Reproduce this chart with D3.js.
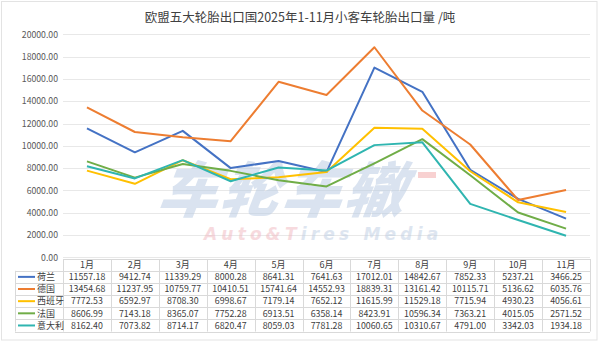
<!DOCTYPE html>
<html>
<head>
<meta charset="utf-8">
<script src="https://cdn.jsdelivr.net/npm/d3@7/dist/d3.min.js"></script>
<style>
  html, body { margin: 0; padding: 0; background: #fff; }
  svg { display: block; font-family: "Noto Sans CJK SC", "Noto Sans", sans-serif; }
</style>
</head>
<body>
<svg id="chart" width="600" height="343"></svg>
<script>
// 2025年1-11月 欧盟五大轮胎出口国小客车轮胎出口量（吨）
const months = ["1月","2月","3月","4月","5月","6月","7月","8月","9月","10月","11月"];
const countries = ["荷兰","德国","西班牙","法国","意大利"];
const colors = ["#4472C4","#ED7D31","#FFC000","#70AD47","#2FB5B0"];

const netherlands = [11557.18, 9412.74, 11339.29, 8000.28, 8641.31, 7641.63, 17012.01, 14842.67, 7852.33, 5237.21, 3466.25];
const germany     = [13454.68, 11237.95, 10759.77, 10410.51, 15741.64, 14552.93, 18839.31, 13161.42, 10115.71, 5136.62, 6035.76];
const spain       = [7772.53, 6592.97, 8708.30, 6998.67, 7179.14, 7652.12, 11615.99, 11529.18, 7715.94, 4930.23, 4056.61];
const france      = [8606.99, 7143.18, 8365.07, 7752.28, 6913.51, 6358.14, 8423.91, 10596.34, 7363.21, 4015.05, 2571.52];
const italy       = [8162.40, 7073.82, 8714.17, 6820.47, 8059.03, 7781.28, 10060.65, 10310.67, 4791.00, 3342.03, 1934.18];

const yTicks = [0, 2000, 4000, 6000, 8000, 10000, 12000, 14000, 16000, 18000, 20000];
const title = "欧盟五大轮胎出口国2025年1-11月小客车轮胎出口量 /吨";

const series = countries.map((name, i) => ({
  name,
  color: colors[i],
  values: [netherlands, germany, spain, france, italy][i]
}));

const svg = d3.select("#chart");

// outer frame
svg.append("rect")
  .attr("x", 1.5).attr("y", 1.5).attr("width", 595.5).attr("height", 338.5)
  .attr("fill", "#fff").attr("stroke", "#e3e3e3").attr("stroke-width", 1);

// title
svg.append("text")
  .attr("x", 300).attr("y", 22)
  .attr("text-anchor", "middle")
  .attr("font-size", 12.5)
  .attr("fill", "#404040")
  .text(title);

const left = 63, right = 590;
const x = d3.scaleBand().domain(months).range([left, right]);
const y = d3.scaleLinear().domain([0, 20000]).range([257.3, 34.3]);

// horizontal grid lines
svg.append("g")
  .selectAll("line")
  .data(yTicks)
  .join("line")
  .attr("x1", left).attr("x2", right)
  .attr("y1", d => Math.round(y(d)) + 0.5)
  .attr("y2", d => Math.round(y(d)) + 0.5)
  .attr("stroke", "#e8e8e8").attr("stroke-width", 1);

// y axis labels
const yAxis = d3.axisLeft(y)
  .tickValues(yTicks)
  .tickFormat(d => d3.format(".2f")(d))
  .tickSize(0)
  .tickPadding(0);
const yg = svg.append("g")
  .attr("transform", `translate(${left - 5},0)`)
  .call(yAxis);
yg.select(".domain").remove();
yg.selectAll("text")
  .attr("font-family", "'Noto Sans CJK SC', sans-serif")
  .attr("font-size", 8.7)
  .attr("fill", "#595959");

// publisher mark behind the lines
const wm = svg.append("g").attr("pointer-events", "none");
wm.append("text")
  .attr("x", 158).attr("y", 212)
  .attr("font-size", 60)
  .attr("font-weight", 900)
  .attr("font-style", "italic")
  .attr("letter-spacing", 2)
  .attr("fill", "#bccde4")
  .attr("opacity", 0.55)
  .attr("transform", "skewX(-8) translate(28,0)")
  .text("车轮车辙");
wm.append("rect")
  .attr("x", 418).attr("y", 172).attr("width", 18).attr("height", 6)
  .attr("fill", "#f3b3b3").attr("opacity", 0.6);
const wmLine = wm.append("text")
  .attr("x", 204).attr("y", 240)
  .attr("font-size", 17)
  .attr("font-weight", 700)
  .attr("font-style", "italic")
  .attr("letter-spacing", 4.2)
  .attr("font-family", "'DejaVu Sans', sans-serif")
  .attr("opacity", 0.5);
wmLine.append("tspan").attr("fill", "#f0b7bf").text("Auto&T");
wmLine.append("tspan").attr("fill", "#bccde3").text("ires Media");

// series lines
const line = d3.line()
  .x((d, i) => x(months[i]) + x.bandwidth() / 2)
  .y(d => y(d));
svg.append("g")
  .selectAll("path")
  .data(series)
  .join("path")
  .attr("d", d => line(d.values))
  .attr("fill", "none")
  .attr("stroke", d => d.color)
  .attr("stroke-width", 2)
  .attr("stroke-linejoin", "round");

// data table
const tTop = 259, hdrH = 11.8, rowH = 12.15, tLeft = 15;
const tBottom = tTop + hdrH + rowH * series.length;
const table = svg.append("g");
const gridColor = "#d9d9d9";

// horizontal rules
table.append("line")
  .attr("x1", left).attr("x2", right).attr("y1", tTop + 0.5).attr("y2", tTop + 0.5)
  .attr("stroke", gridColor);
d3.range(series.length + 1).forEach(i => {
  const yy = Math.round(tTop + hdrH + rowH * i) + 0.5;
  table.append("line")
    .attr("x1", tLeft).attr("x2", right).attr("y1", yy).attr("y2", yy)
    .attr("stroke", gridColor);
});
// vertical rules
table.append("line")
  .attr("x1", tLeft + 0.5).attr("x2", tLeft + 0.5)
  .attr("y1", tTop + hdrH).attr("y2", tBottom)
  .attr("stroke", gridColor);
months.forEach(m => {
  const xx = Math.round(x(m)) + 0.5;
  table.append("line")
    .attr("x1", xx).attr("x2", xx).attr("y1", tTop).attr("y2", tBottom)
    .attr("stroke", gridColor);
});
table.append("line")
  .attr("x1", right + 0.5).attr("x2", right + 0.5).attr("y1", tTop).attr("y2", tBottom)
  .attr("stroke", gridColor);

// header labels
table.selectAll("text.hdr")
  .data(months)
  .join("text")
  .attr("class", "hdr")
  .attr("x", d => x(d) + x.bandwidth() / 2)
  .attr("y", tTop + hdrH / 2 + 3.2)
  .attr("text-anchor", "middle")
  .attr("font-size", 9)
  .attr("fill", "#404040")
  .text(d => d);

// rows: legend key + values
series.forEach((s, r) => {
  const cy = tTop + hdrH + rowH * r + rowH / 2;
  table.append("line")
    .attr("x1", 18).attr("x2", 35).attr("y1", cy).attr("y2", cy)
    .attr("stroke", s.color).attr("stroke-width", 2);
  table.append("text")
    .attr("x", 37).attr("y", cy + 3.3)
    .attr("font-size", 9).attr("fill", "#404040")
    .text(s.name);
  table.selectAll(null)
    .data(s.values)
    .join("text")
    .attr("x", (d, i) => x(months[i]) + x.bandwidth() / 2)
    .attr("y", cy + 3.2)
    .attr("text-anchor", "middle")
    .attr("font-size", 8.8)
    .attr("fill", "#404040")
    .text(d => d3.format(".2f")(d));
});
</script>
</body>
</html>
